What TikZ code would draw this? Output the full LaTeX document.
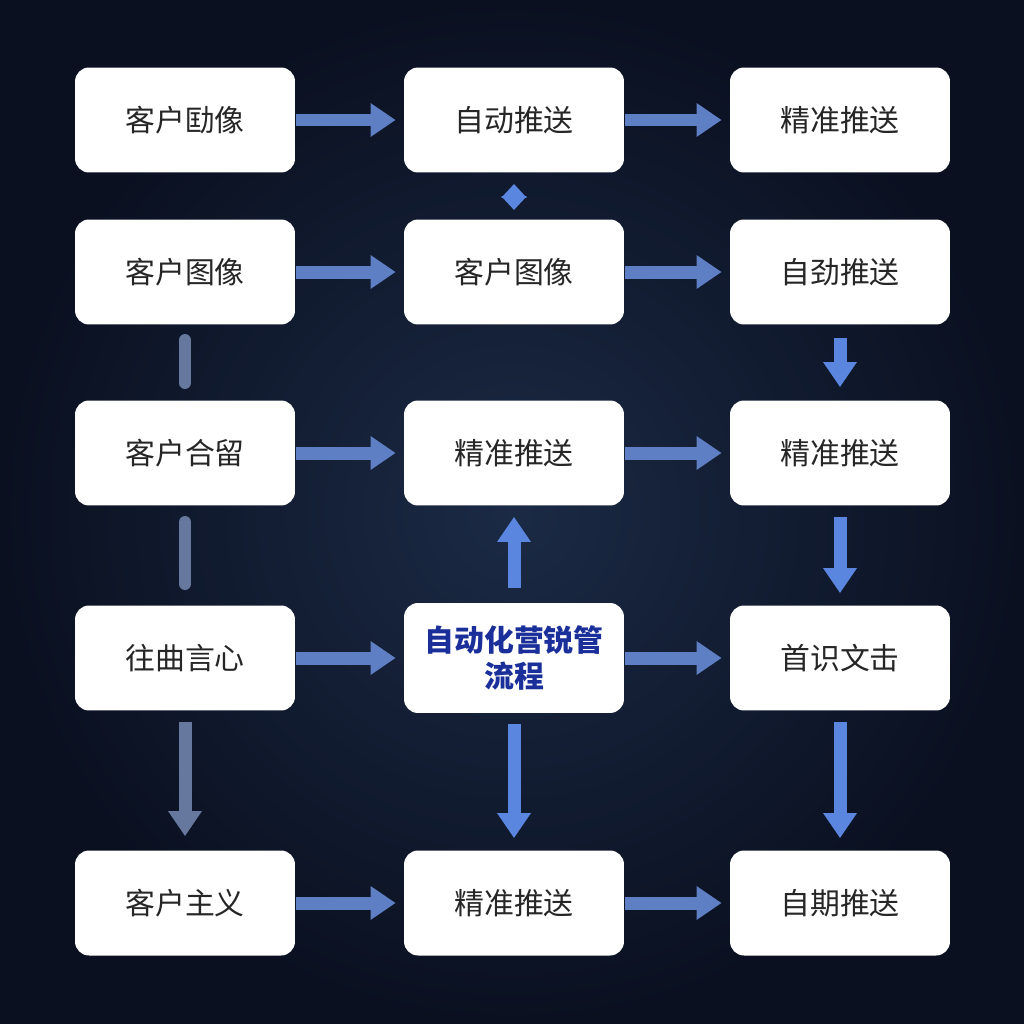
\documentclass[tikz,border=0pt]{standalone}
\usepackage{fontspec}
\setmainfont{Noto Sans CJK SC}
\usetikzlibrary{arrows.meta}
\definecolor{bgA}{HTML}{1B2A45}
\definecolor{bgB}{HTML}{0A1020}
\definecolor{ablue}{HTML}{5A86E0}
\definecolor{agray}{HTML}{66789E}
\definecolor{hblue}{HTML}{5E7FC4}
\definecolor{tblue}{HTML}{1A2F9A}
\begin{document}
\begin{tikzpicture}[x=0.02cm,y=-0.02cm,
  box/.style={fill=white,rounded corners=0.28cm,minimum width=4.4cm,minimum height=2.1cm,inner sep=0pt,font=\fontsize{17}{21}\selectfont,text=black!85,align=center},
  arr/.style={line width=0.26cm,-{Triangle[width=0.64cm,length=0.5cm]}},
  bar/.style={line width=0.24cm,line cap=round}]
\shade[inner color=bgA,outer color=bgB] (0,0) rectangle (1024,1024);
\useasboundingbox (0,0) rectangle (1024,1024);
\node[box] (a1) at (185,120) {客户劻像};
\node[box] (b1) at (514,120) {自动推送};
\node[box] (c1) at (840,120) {精准推送};
\node[box] (a2) at (185,272) {客户图像};
\node[box] (b2) at (514,272) {客户图像};
\node[box] (c2) at (840,272) {自劲推送};
\node[box] (a3) at (185,453) {客户合留};
\node[box] (b3) at (514,453) {精准推送};
\node[box] (c3) at (840,453) {精准推送};
\node[box] (a4) at (185,658) {往曲言心};
\node[box,minimum height=2.2cm,font=\fontsize{17}{21}\selectfont\bfseries,text=tblue] (b4) at (514,658) {自动化营锐管\\流程};
\node[box] (c4) at (840,658) {首识文击};
\node[box] (a5) at (185,903) {客户主义};
\node[box] (b5) at (514,903) {精准推送};
\node[box] (c5) at (840,903) {自期推送};
% horizontal arrows
\foreach \r in {1,2,3,4,5}{
  \draw[arr,hblue] ([xshift=0.02cm]a\r.east) -- ([xshift=-0.16cm]b\r.west);
  \draw[arr,hblue] ([xshift=0.02cm]b\r.east) -- ([xshift=-0.16cm]c\r.west);
}
% vertical
\coordinate (d1) at (514,184); \coordinate (d2) at (514,210);
\draw[ablue,line width=0.2cm,{Triangle[width=0.5cm,length=0.28cm]}-{Triangle[width=0.5cm,length=0.28cm]}] (d1) -- (d2);
\coordinate (g1) at (185,340); \coordinate (g2) at (185,383);
\draw[bar,agray] (g1) -- (g2);
\coordinate (g3) at (185,522); \coordinate (g4) at (185,584);
\draw[bar,agray] (g3) -- (g4);
\draw[arr,agray] ([yshift=-0.22cm]a4.south) -- ([yshift=0.28cm]a5.north);
\draw[arr,ablue] ([yshift=0.3cm]b4.north) -- ([yshift=-0.22cm]b3.south);
\draw[arr,ablue] ([yshift=-0.22cm]b4.south) -- ([yshift=0.24cm]b5.north);
\draw[arr,ablue] ([yshift=-0.26cm]c2.south) -- ([yshift=0.26cm]c3.north);
\draw[arr,ablue] ([yshift=-0.22cm]c3.south) -- ([yshift=0.24cm]c4.north);
\draw[arr,ablue] ([yshift=-0.22cm]c4.south) -- ([yshift=0.24cm]c5.north);
\end{tikzpicture}
\end{document}
